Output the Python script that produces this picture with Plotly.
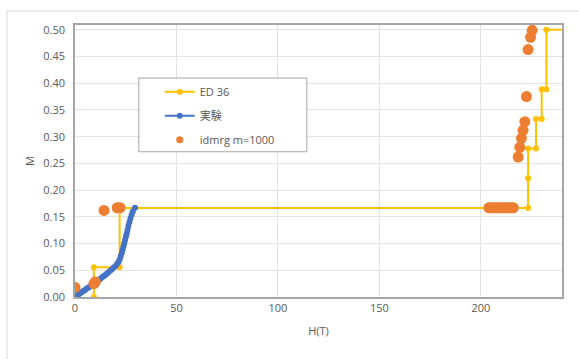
import plotly.graph_objects as go

# ED 36 step curve
ed_h = [9.3, 9.3, 22.0, 22.0, 223.3, 223.3, 223.3, 227.2, 227.2, 230.0, 230.0, 232.3, 232.3, 250.0]
ed_m = [0.0, 0.0556, 0.0556, 0.1667, 0.1667, 0.2222, 0.2778, 0.2778, 0.3333, 0.3333, 0.3889, 0.3889, 0.5, 0.5]

# Experiment
exp_h = [0, 0.8, 1.6, 2.5, 3.3, 4.1, 5.0, 5.8, 6.7, 7.5, 8.4, 9.2, 10.1, 11.0, 11.9, 12.8,
         13.7, 14.6, 15.5, 16.4, 17.3, 18.2, 19.1, 20.0, 20.8, 21.5, 22.1, 22.6, 23.1, 23.5,
         23.9, 24.3, 24.7, 25.1, 25.5, 25.9, 26.3, 26.8, 27.3, 27.9, 28.5, 29.6]
exp_m = [0, 0.002, 0.004, 0.007, 0.009, 0.011, 0.013, 0.016, 0.018, 0.020, 0.022, 0.025,
         0.027, 0.030, 0.032, 0.035, 0.038, 0.040, 0.043, 0.046, 0.049, 0.052, 0.055, 0.058,
         0.062, 0.066, 0.071, 0.077, 0.083, 0.089, 0.095, 0.101, 0.107, 0.113, 0.119, 0.126,
         0.133, 0.140, 0.147, 0.154, 0.160, 0.167]

# idmrg m=1000
dm_h = [0, 9.3, 10.0, 14.3, 20.8, 22.2,
        204, 205, 206, 207, 208, 209, 210, 211, 212, 213, 214, 215, 216,
        218.4, 219.2, 220.0, 220.8, 221.7, 222.5, 223.3, 224.5, 225.3]
dm_m = [0.018, 0.025, 0.028, 0.162, 0.167, 0.167,
        0.167, 0.167, 0.167, 0.167, 0.167, 0.167, 0.167, 0.167, 0.167, 0.167, 0.167, 0.167, 0.167,
        0.262, 0.280, 0.297, 0.312, 0.328, 0.375, 0.463, 0.486, 0.499]

x_ticks = [0, 50, 100, 150, 200]

FONT = "Open Sans, Noto Sans CJK JP, sans-serif"
TXT = "#595959"
ORANGE = "#ED7D31"

fig = go.Figure()
fig.add_trace(go.Scatter(x=ed_h, y=ed_m, mode="lines+markers", name="ED 36",
                         line=dict(color="#FFC000", width=2),
                         marker=dict(color="#FFC000", size=6), legendgroup="a"))
fig.add_trace(go.Scatter(x=exp_h, y=exp_m, mode="lines+markers", name="実験",
                         line=dict(color="#4472C4", width=2),
                         marker=dict(color="#4472C4", size=6), legendgroup="b"))
fig.add_trace(go.Scatter(x=dm_h, y=dm_m, mode="markers", name="idmrg m=1000",
                         marker=dict(color=ORANGE, size=11), legendgroup="c",
                         showlegend=False))
# legend-only entry with a smaller symbol, as in the reference legend
fig.add_trace(go.Scatter(x=[None], y=[None], mode="markers", name="idmrg m=1000",
                         marker=dict(color=ORANGE, size=7), legendgroup="c"))

fig.update_layout(
    width=579, height=359,
    margin=dict(l=75, r=17, t=25, b=62),
    paper_bgcolor="white", plot_bgcolor="white",
    font=dict(family=FONT, size=11, color=TXT),
    showlegend=True,
    legend=dict(x=0.174, y=0.808, xanchor="left", yanchor="top",
                bgcolor="rgba(0,0,0,0)", borderwidth=0, itemsizing="trace",
                tracegroupgap=5, font=dict(size=11, color=TXT)),
    xaxis=dict(range=[0, 240], tickvals=x_ticks, showgrid=True, gridcolor="#E3E3E3",
               zeroline=False, showline=True, linecolor="#A6A6A6", linewidth=1.5, mirror=True,
               ticks="", title=dict(text="H(T)", font=dict(size=11, color=TXT), standoff=13)),
    yaxis=dict(range=[0, 0.509], dtick=0.05, tick0=0, tickformat=".2f", showgrid=True,
               gridcolor="#E3E3E3", zeroline=False, showline=True, linecolor="#A6A6A6",
               linewidth=1.5, mirror=True, ticks="", ticklabelstandoff=6,
               title=dict(text="M", font=dict(size=11, color=TXT), standoff=6)),
    shapes=[
        dict(type="rect", xref="paper", yref="paper", x0=-0.1396, x1=1.2, y0=-0.5, y1=1.0515,
             line=dict(color="#D9D9D9", width=1), fillcolor="rgba(0,0,0,0)", layer="below"),
        dict(type="rect", xref="paper", yref="paper", x0=0.131, x1=0.476, y0=0.534, y1=0.805,
             line=dict(color="#A6A6A6", width=1), fillcolor="white", layer="above"),
    ],
)

fig.write_html("out.html", post_script="document.body.style.margin='0';",
               config={"displayModeBar": False})
